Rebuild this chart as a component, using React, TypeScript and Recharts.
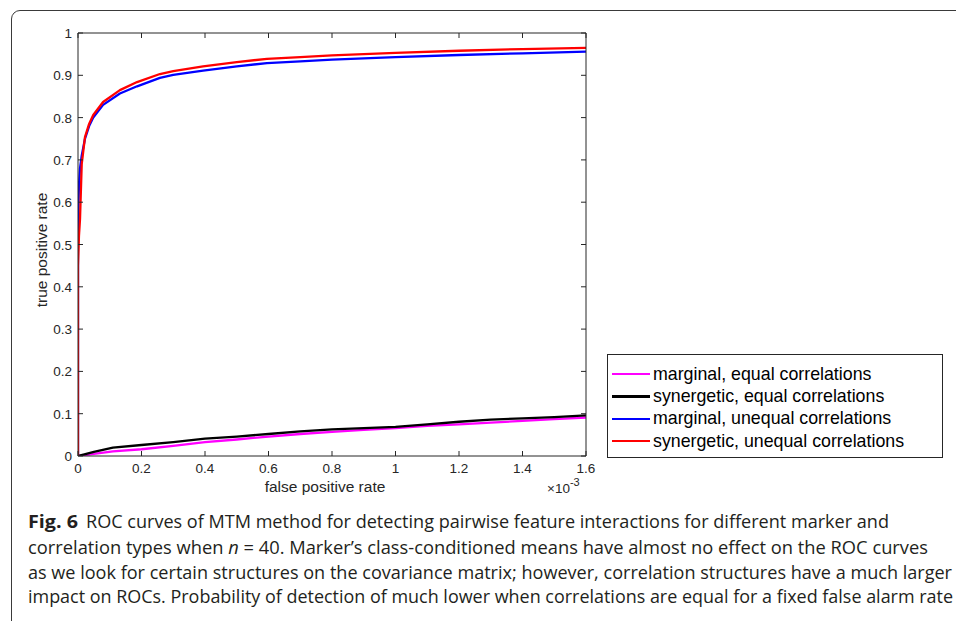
import React from "react";
import { LineChart, Line, XAxis, YAxis } from "recharts";

// ROC curves, false positive rate in units of 1e-3
const fprUnequal = [0, 0, 0.003, 0.0063, 0.0117, 0.022, 0.035, 0.048, 0.079, 0.132, 0.186, 0.258, 0.3, 0.394, 0.5, 0.595, 0.7, 0.8, 1.0, 1.2, 1.4, 1.6];
const tprSynergeticUnequal = [0, 0.45, 0.52, 0.56, 0.69, 0.754, 0.785, 0.806, 0.837, 0.865, 0.884, 0.903, 0.91, 0.921, 0.931, 0.939, 0.943, 0.947, 0.953, 0.958, 0.962, 0.965];
const tprMarginalUnequal = [0, 0.55, 0.64, 0.68, 0.71, 0.75, 0.78, 0.8, 0.83, 0.857, 0.874, 0.894, 0.901, 0.911, 0.921, 0.929, 0.933, 0.937, 0.943, 0.948, 0.952, 0.956];

const fprEqual = [0, 0.02, 0.05, 0.11, 0.2, 0.3, 0.4, 0.5, 0.6, 0.7, 0.8, 0.9, 1.0, 1.1, 1.2, 1.3, 1.4, 1.5, 1.6];
const tprSynergeticEqual = [0, 0.004, 0.01, 0.02, 0.026, 0.033, 0.041, 0.046, 0.052, 0.058, 0.063, 0.066, 0.069, 0.075, 0.081, 0.086, 0.089, 0.092, 0.096];
const tprMarginalEqual = [0, 0.002, 0.005, 0.011, 0.016, 0.024, 0.033, 0.039, 0.046, 0.052, 0.057, 0.062, 0.066, 0.071, 0.075, 0.079, 0.083, 0.087, 0.091];

const xTicks = [0, 0.2, 0.4, 0.6, 0.8, 1, 1.2, 1.4, 1.6];
const yTicks = [0, 0.1, 0.2, 0.3, 0.4, 0.5, 0.6, 0.7, 0.8, 0.9, 1];

const seriesNames = [
  "marginal, equal correlations",
  "synergetic, equal correlations",
  "marginal, unequal correlations",
  "synergetic, unequal correlations",
];
const seriesColors = ["#ff00ff", "#000000", "#0000ff", "#ff0000"];

const captionLines = [
  "ROC curves of MTM method for detecting pairwise feature interactions for different marker and",
  "correlation types when ",
  "as we look for certain structures on the covariance matrix; however, correlation structures have a much larger",
  "impact on ROCs. Probability of detection of much lower when correlations are equal for a fixed false alarm rate",
];

const toPoints = (xs: number[], ys: number[]) => xs.map((x, i) => ({ x, y: ys[i] }));

const AXIS = "#262626";
const TICK_FONT = "'Liberation Sans', Arial, sans-serif";

const fmt = (v: number) => String(v);

function BottomTick(props: any) {
  const { x, y, payload } = props;
  return (
    <g>
      <line x1={x} y1={y} x2={x} y2={y - 5} stroke={AXIS} strokeWidth={1} />
      <text x={x} y={y + 16.5} textAnchor="middle" fill={AXIS} fontSize={13.5} fontFamily={TICK_FONT}>
        {fmt(payload.value)}
      </text>
    </g>
  );
}

function TopTick(props: any) {
  const { x, y } = props;
  return <line x1={x} y1={y} x2={x} y2={y + 5} stroke={AXIS} strokeWidth={1} />;
}

function LeftTick(props: any) {
  const { x, y, payload } = props;
  return (
    <g>
      <line x1={x} y1={y} x2={x + 5} y2={y} stroke={AXIS} strokeWidth={1} />
      <text x={x - 6} y={y + 5} textAnchor="end" fill={AXIS} fontSize={13.5} fontFamily={TICK_FONT}>
        {fmt(payload.value)}
      </text>
    </g>
  );
}

function RightTick(props: any) {
  const { x, y } = props;
  return <line x1={x} y1={y} x2={x - 5} y2={y} stroke={AXIS} strokeWidth={1} />;
}

export default function App() {
  const data = [
    toPoints(fprEqual, tprMarginalEqual),
    toPoints(fprEqual, tprSynergeticEqual),
    toPoints(fprUnequal, tprMarginalUnequal),
    toPoints(fprUnequal, tprSynergeticUnequal),
  ];

  return (
    <div style={{ position: "absolute", left: 0, top: 0, width: 956, height: 621, overflow: "hidden", background: "#fff" }}>
      {/* figure frame */}
      <div
        style={{
          position: "absolute",
          left: 11,
          top: 10,
          width: 1000,
          height: 700,
          border: "1.5px solid #3a3a3a",
          borderRadius: 9,
        }}
      />

      <div style={{ position: "absolute", left: 0, top: 0 }}>
        <LineChart width={956} height={621} margin={{ top: 32, right: 369, bottom: 135, left: 38 }}>
          <XAxis
            xAxisId="bottom"
            dataKey="x"
            type="number"
            domain={[0, 1.6]}
            ticks={xTicks}
            orientation="bottom"
            height={30}
            tickSize={0}
            tickMargin={0}
            tickLine={false}
            tick={<BottomTick />}
            axisLine={{ stroke: AXIS, strokeWidth: 1 }}
            allowDataOverflow
          />
          <XAxis
            xAxisId="top"
            dataKey="x"
            type="number"
            domain={[0, 1.6]}
            ticks={xTicks}
            orientation="top"
            height={1}
            tickSize={0}
            tickMargin={0}
            tickLine={false}
            tick={<TopTick />}
            axisLine={{ stroke: AXIS, strokeWidth: 1 }}
            allowDataOverflow
          />
          <YAxis
            yAxisId="left"
            type="number"
            domain={[0, 1]}
            ticks={yTicks}
            width={40}
            tickSize={0}
            tickMargin={0}
            tickLine={false}
            tick={<LeftTick />}
            axisLine={{ stroke: AXIS, strokeWidth: 1 }}
            allowDataOverflow
          />
          <YAxis
            yAxisId="right"
            orientation="right"
            type="number"
            domain={[0, 1]}
            ticks={yTicks}
            width={1}
            tickSize={0}
            tickMargin={0}
            tickLine={false}
            tick={<RightTick />}
            axisLine={{ stroke: AXIS, strokeWidth: 1 }}
            allowDataOverflow
          />
          {/* keeps the top/right box axes bound to data */}
          <Line
            xAxisId="top"
            yAxisId="right"
            data={data[3]}
            dataKey="y"
            stroke="none"
            dot={false}
            isAnimationActive={false}
          />
          {data.map((pts, i) => (
            <Line
              key={seriesNames[i]}
              xAxisId="bottom"
              yAxisId="left"
              data={pts}
              dataKey="y"
              name={seriesNames[i]}
              type="linear"
              stroke={seriesColors[i]}
              strokeWidth={2.3}
              strokeLinejoin="round"
              dot={false}
              isAnimationActive={false}
            />
          ))}
        </LineChart>
      </div>

      {/* legend */}
      <div
        style={{
          position: "absolute",
          left: 607,
          top: 354,
          width: 334,
          height: 102,
          border: `1px solid ${AXIS}`,
          background: "#fff",
          fontFamily: TICK_FONT,
          fontSize: 17.8,
          color: "#000",
        }}
      >
        {seriesNames.map((name, i) => (
          <div key={name} style={{ position: "absolute", left: 4, top: 9 + i * 22.4, height: 20, display: "flex", alignItems: "center" }}>
            <div style={{ width: 38, height: 2.5, background: seriesColors[i], marginRight: 3 }} />
            <span style={{ whiteSpace: "nowrap" }}>{name}</span>
          </div>
        ))}
      </div>

      {/* axis labels and caption */}
      <svg width={956} height={621} style={{ position: "absolute", left: 0, top: 0, pointerEvents: "none" }}>
        <text x={325} y={492} textAnchor="middle" fontSize={15.5} fontFamily={TICK_FONT} fill={AXIS}>
          false positive rate
        </text>
        <text
          x={0}
          y={0}
          transform="translate(47 250) rotate(-90)"
          textAnchor="middle"
          fontSize={15.5}
          fontFamily={TICK_FONT}
          fill={AXIS}
        >
          true positive rate
        </text>
        <text x={547} y={493} fontSize={13.5} fontFamily={TICK_FONT} fill={AXIS}>
          ×10
          <tspan dy={-7} fontSize={11}>-3</tspan>
        </text>

        <g fontFamily="'Open Sans', 'Noto Sans', sans-serif" fontSize={18} fill="#231f20">
          <text x={28} y={528} fontWeight="bold" textLength={50} lengthAdjust="spacingAndGlyphs">Fig. 6</text>
          <text x={86} y={528} textLength={803} lengthAdjust="spacingAndGlyphs">{captionLines[0]}</text>
          <text x={28} y={553.5} textLength={900} lengthAdjust="spacingAndGlyphs">
            {captionLines[1]}
            <tspan fontStyle="italic">n</tspan>
            {" = 40. Marker’s class-conditioned means have almost no effect on the ROC curves"}
          </text>
          <text x={28} y={578.5} textLength={924} lengthAdjust="spacingAndGlyphs">{captionLines[2]}</text>
          <text x={28} y={603} textLength={925} lengthAdjust="spacingAndGlyphs">{captionLines[3]}</text>
        </g>
      </svg>
    </div>
  );
}
